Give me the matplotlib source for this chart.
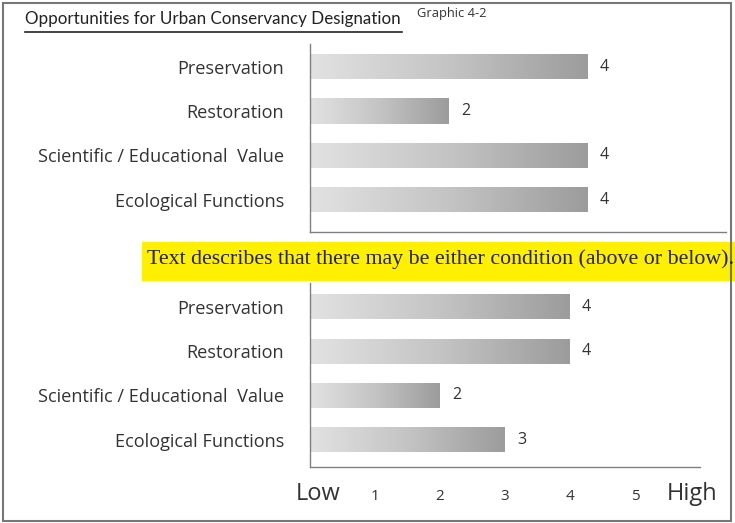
import numpy as np
import matplotlib
matplotlib.use("Agg")
import matplotlib.pyplot as plt
from matplotlib.colors import LinearSegmentedColormap
from matplotlib.patches import Rectangle

categories = ["Preservation", "Restoration", "Scientific / Educational  Value", "Ecological Functions"]
top_values = [4, 2, 4, 4]
bottom_values = [4, 4, 2, 3]
tick_values = [1, 2, 3, 4, 5]
tick_labels = ["1", "2", "3", "4", "5"]
title = "Opportunities for Urban Conservancy Designation"
graphic_label = "Graphic 4-2"
note = "Text describes that there may be either condition (above or below)."

W, H = 735, 523
fig = plt.figure(figsize=(W / 100, H / 100), dpi=100)

def fx(x):
    return x / W

def fy(y):
    return 1 - y / H

cmap = LinearSegmentedColormap.from_list("g", ["#e2e2e2", "#c4c4c4", "#9c9c9c"])
grad = np.linspace(0, 1, 256).reshape(1, -1)
label_font = ["Open Sans", "DejaVu Sans"]
title_font = ["Lato", "Open Sans", "DejaVu Sans"]
txt_color = "#333333"

def panel(x0, x1, y0, y1, ylim, values, show_ticks):
    ax = fig.add_axes([fx(x0), fy(y1), fx(x1) - fx(x0), (y1 - y0) / H])
    ypos = np.arange(len(categories))
    bars = ax.barh(ypos, values, height=0.57, color="none", edgecolor="none")
    for b in bars:
        x, y = b.get_x(), b.get_y()
        w, h = b.get_width(), b.get_height()
        im = ax.imshow(grad, cmap=cmap, aspect="auto", extent=[x, x + w, y + h, y],
                       zorder=2, interpolation="bicubic")
        im.set_clip_path(b)
    for yv, v in zip(ypos, values):
        ax.annotate(str(v), (v, yv), xytext=(12, 0), textcoords="offset points",
                    ha="center", va="center", fontsize=11.5, color=txt_color,
                    family=label_font)
    ax.set_xlim(0, 6)
    ax.set_ylim(*ylim)
    ax.set_yticks(ypos)
    ax.set_yticklabels(categories, fontsize=13.1, color=txt_color, family=label_font)
    ax.tick_params(axis="y", length=0, pad=18.5)
    if show_ticks:
        ax.set_xticks(tick_values)
        ax.set_xticklabels(tick_labels, fontsize=11, color=txt_color, family=label_font)
        ax.tick_params(axis="x", length=0, pad=16)
    else:
        ax.set_xticks([])
    for s in ["top", "right"]:
        ax.spines[s].set_visible(False)
    for s in ["left", "bottom"]:
        ax.spines[s].set_color("#808080")
        ax.spines[s].set_linewidth(1.0)
    ax.set_facecolor("none")
    return ax

panel(310, 726, 44, 232, (3.73, -0.51), top_values, False)
axb = panel(310, 700, 283, 467, (3.62, -0.54), bottom_values, True)

# Low / High labels
fig.text(fx(318), fy(494), "Low", ha="center", va="center", fontsize=17,
         color=txt_color, family=label_font)
fig.text(fx(692), fy(494), "High", ha="center", va="center", fontsize=17,
         color=txt_color, family=label_font)

# Title with underline, sized to the reference width
renderer = fig.canvas.get_renderer()
t = fig.text(fx(25), fy(19), title, ha="left", va="center", fontsize=14,
             color="#222222", family=title_font)
wpx = t.get_window_extent(renderer).width
t.set_fontsize(14 * 377 / wpx)
fig.add_artist(plt.Line2D([fx(25), fx(402)], [fy(32), fy(32)], color="#222222", lw=1.2))
fig.text(fx(417), fy(14), graphic_label, ha="left", va="center", fontsize=9.3,
         color=txt_color, family=label_font)

# Yellow note box
fig.add_artist(Rectangle((fx(142), fy(281)), fx(735) - fx(142), (281 - 242) / H,
                         transform=fig.transFigure, facecolor="#ffef00", edgecolor="none", zorder=0))
fig.text(fx(147), fy(259), note, ha="left", va="center", fontsize=15.75,
         color="#222222", family=["Liberation Serif", "DejaVu Serif"])

# outer border
fig.add_artist(Rectangle((fx(3), fy(521)), fx(731) - fx(3), (521 - 3) / H,
                         transform=fig.transFigure, facecolor="none", edgecolor="#777777", lw=1.5))

fig.savefig("out.png", dpi=100)
